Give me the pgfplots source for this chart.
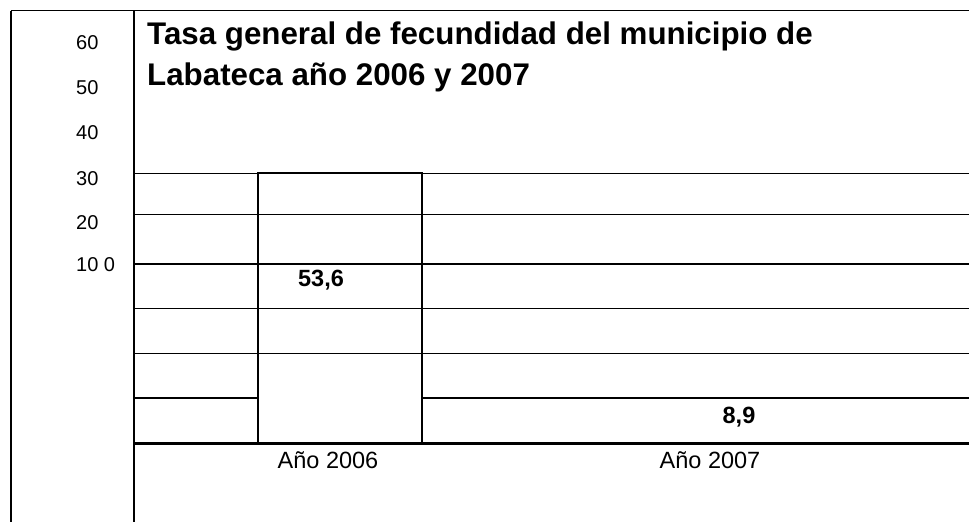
\documentclass[border=0pt]{standalone}
\usepackage{pgfplots}
\pgfplotsset{compat=1.18}
\usepackage{fontspec}
\setmainfont{Liberation Sans}
\begin{document}
\begin{tikzpicture}
\begin{axis}[
  name=ax,
  scale only axis, width=969pt, height=522pt,
  xmin=0, xmax=969, ymin=-15.62, ymax=88.01,
  hide axis, clip=true, clip mode=individual,
]
% frame lines
\draw[black, line width=1pt] (axis cs:11,85.83) -- (axis cs:969,85.83);
\draw[black, line width=1.2pt] (axis cs:11,85.83) -- (axis cs:11,-15.62);
\draw[black, line width=2pt] (axis cs:134,85.83) -- (axis cs:134,-15.62);
% horizontal rules
\draw[black, line width=1pt] (axis cs:134,53.6) -- (axis cs:969,53.6);
\draw[black, line width=1pt] (axis cs:134,45.52) -- (axis cs:969,45.52);
\draw[black, line width=2pt] (axis cs:134,35.60) -- (axis cs:969,35.60);
\draw[black, line width=1pt] (axis cs:134,26.80) -- (axis cs:969,26.80);
\draw[black, line width=1pt] (axis cs:134,17.87) -- (axis cs:969,17.87);
\draw[black, line width=2pt] (axis cs:134,8.9) -- (axis cs:258,8.9);
\draw[black, line width=2.4pt] (axis cs:134,0) -- (axis cs:969,0);
% bars
\addplot[ybar, bar width=164, bar shift=0pt, draw=black, fill=none, line width=2pt] coordinates {(340,53.6)};
\addplot[ybar, bar width=560, bar shift=0pt, draw=black, fill=none, line width=2pt] coordinates {(702,8.9)};
% title
\node[anchor=base west, font=\fontsize{31.3}{37}\selectfont\bfseries, inner sep=0pt] at (axis cs:147,79.27) {Tasa general de fecundidad del municipio de};
\node[anchor=base west, font=\fontsize{31.3}{37}\selectfont\bfseries, inner sep=0pt] at (axis cs:147,71.13) {Labateca año 2006 y 2007};
% y labels
\node[anchor=base west, font=\fontsize{20}{24}\selectfont, inner sep=0pt] at (axis cs:76,78.28) {60};
\node[anchor=base west, font=\fontsize{20}{24}\selectfont, inner sep=0pt] at (axis cs:76,69.15) {50};
\node[anchor=base west, font=\fontsize{20}{24}\selectfont, inner sep=0pt] at (axis cs:76,60.35) {40};
\node[anchor=base west, font=\fontsize{20}{24}\selectfont, inner sep=0pt] at (axis cs:76,51.28) {30};
\node[anchor=base west, font=\fontsize{20}{24}\selectfont, inner sep=0pt] at (axis cs:76,42.49) {20};
\node[anchor=base west, font=\fontsize{20}{24}\selectfont, inner sep=0pt] at (axis cs:76,34.07) {10 0};
% value labels
\node[anchor=base, font=\fontsize{23.5}{28}\selectfont\bfseries, inner sep=0pt] at (axis cs:321,31.09) {53,6};
\node[anchor=base, font=\fontsize{23.5}{28}\selectfont\bfseries, inner sep=0pt] at (axis cs:739,3.97) {8,9};
% x labels
\node[anchor=base, font=\fontsize{23.5}{28}\selectfont, inner sep=0pt] at (axis cs:328,-4.96) {Año 2006};
\node[anchor=base, font=\fontsize{23.5}{28}\selectfont, inner sep=0pt] at (axis cs:710,-4.96) {Año 2007};
\end{axis}
\pgfresetboundingbox
\useasboundingbox (ax.south west) rectangle (ax.north east);
\end{tikzpicture}
\end{document}
